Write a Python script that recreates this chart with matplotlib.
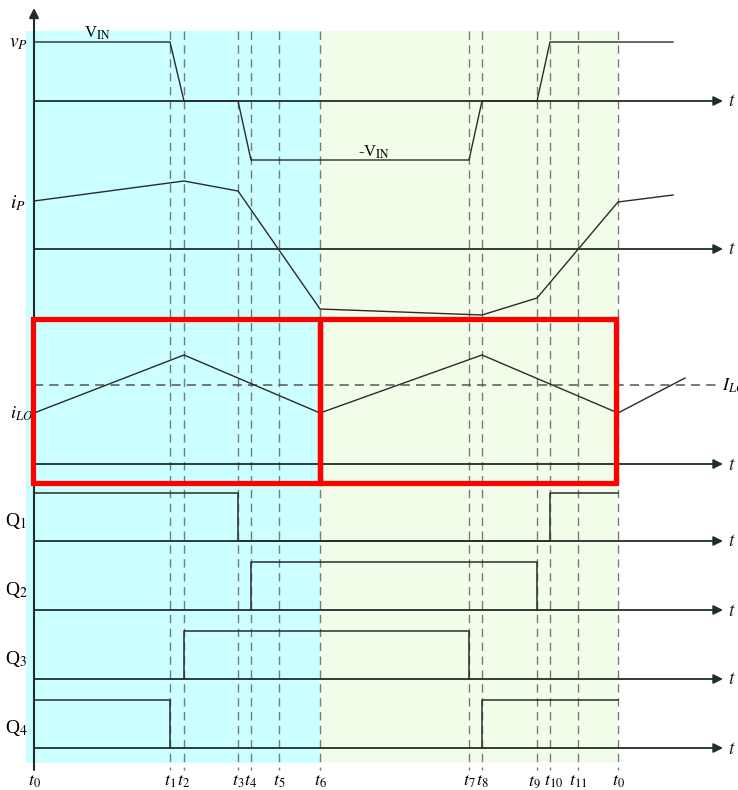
import matplotlib
matplotlib.use("Agg")
import matplotlib.pyplot as plt
from matplotlib.patches import Rectangle

plt.rcParams['mathtext.fontset'] = 'stix'
plt.rcParams['font.family'] = ['Liberation Serif', 'DejaVu Serif']

# ---------------- data ----------------
# switching instants (time units, t0 = 0, period end t0' = 584)
t_names = ['t_0', 't_1', 't_2', 't_3', 't_4', 't_5', 't_6',
           't_7', 't_8', 't_9', 't_{10}', 't_{11}', 't_0']
t_vals = [0, 136, 150, 204, 217, 245, 286, 435, 448, 503, 516, 544, 584]
t_end = 639          # end of drawn waveform after one period

# primary voltage vP (normalised to VIN)
vp_t = [0, 136, 150, 204, 217, 435, 448, 503, 516, 639]
vp_v = [1, 1, 0, 0, -1, -1, 0, 0, 1, 1]

# primary current iP (arbitrary units)
ip_t = [0, 150, 204, 286, 448, 503, 584, 639]
ip_v = [48, 68, 58, -60, -66, -49, 47, 54]

# output inductor current iLO (arbitrary units) and its average ILO
ilo_t = [0, 150, 286, 448, 584, 651]
ilo_v = [51, 109, 51, 109, 51, 86]
ilo_avg = 79

# gate signals (1 = on)
q_names = ['Q$_1$', 'Q$_2$', 'Q$_3$', 'Q$_4$']
q1_t = [0, 204, 204, 516, 516, 584]
q1_v = [1, 1, 0, 0, 1, 1]
q2_t = [217, 217, 503, 503]
q2_v = [0, 1, 1, 0]
q3_t = [150, 150, 435, 435]
q3_v = [0, 1, 1, 0]
q4a_t = [0, 136, 136]
q4a_v = [1, 1, 0]
q4b_t = [448, 448, 584]
q4b_v = [0, 1, 1]

# ---------------- layout ----------------
fig = plt.figure(figsize=(7.38, 7.90), dpi=100)
ax = fig.add_axes([0, 0, 1, 1])
ax.set_xlim(-34, 704)
ax.set_ylim(790, 0)
ax.axis('off')

blue = '#ccffff'
green = '#f1fde9'
wave = '#2b2b2b'
axc = '#1f2d2d'
dashc = '#6f7d80'

# background regions
ax.add_patch(Rectangle((-8, 31), 294, 732, facecolor=blue, edgecolor='none', zorder=0))
ax.add_patch(Rectangle((286, 31), 297, 732, facecolor=green, edgecolor='none', zorder=0))

# dashed time markers
for tv in t_vals[1:]:
    ax.plot([tv, tv], [31, 770], color=dashc, lw=1.0, ls=(0, (6, 4)), zorder=1)

# channel baselines (y position of zero level) and scales
base_vp, sc_vp = 101, 59
base_ip = 249
base_ilo = 464
q_bases = [541, 610, 679, 748]
q_h = 48

arrow_end = 689
for b in [base_vp, base_ip, base_ilo] + q_bases:
    ax.annotate('', xy=(arrow_end, b), xytext=(0, b),
                arrowprops=dict(arrowstyle='-|>', color=axc, lw=1.3,
                                mutation_scale=14, shrinkA=0, shrinkB=0),
                zorder=3)
    ax.text(arrow_end + 5, b + 1, '$t$', fontsize=14, va='center', ha='left', color='#222')

# vertical axis
ax.annotate('', xy=(0, 8), xytext=(0, 770),
            arrowprops=dict(arrowstyle='-|>', color=axc, lw=1.5,
                            mutation_scale=14, shrinkA=0, shrinkB=0), zorder=3)

# waveforms
ax.plot(vp_t, [base_vp - sc_vp * v for v in vp_v], color=wave, lw=1.0, zorder=4)
ax.plot(ip_t, [base_ip - v for v in ip_v], color=wave, lw=1.0, zorder=4)
ax.plot(ilo_t, [base_ilo - v for v in ilo_v], color=wave, lw=1.0, zorder=4)
ax.plot([0, 683], [base_ilo - ilo_avg] * 2, color='#555555', lw=1.1,
        ls=(0, (6, 4)), zorder=2)

q_series = [[(q1_t, q1_v)], [(q2_t, q2_v)], [(q3_t, q3_v)],
            [(q4a_t, q4a_v), (q4b_t, q4b_v)]]
for b, segs in zip(q_bases, q_series):
    for ts, vs in segs:
        ax.plot(ts, [b - q_h * v for v in vs], color=wave, lw=1.1, zorder=4)

# red highlight boxes
ax.add_patch(Rectangle((-1, 319), 287, 164, facecolor='none', edgecolor='#ff0000',
                       lw=3.8, zorder=6))
ax.add_patch(Rectangle((286, 319), 296, 164, facecolor='none', edgecolor='#ff0000',
                       lw=3.8, zorder=6))

# labels
ax.text(-16, 44, '$v_P$', fontsize=14, ha='center', va='center')
ax.text(50, 33, r'V$_{\mathrm{IN}}$', fontsize=12, ha='left', va='center')
ax.text(324, 152, r'-V$_{\mathrm{IN}}$', fontsize=12, ha='left', va='center')
ax.text(-16, 203, '$i_P$', fontsize=14, ha='center', va='center')
ax.text(-13, 414, '$i_{LO}$', fontsize=13, ha='center', va='center')
ax.text(688, 386, '$I_{LO}$', fontsize=13, ha='left', va='center')
for name, b in zip(q_names, q_bases):
    ax.text(-18, b - 20, name, fontsize=14, ha='center', va='center')
label_shift = {'t_9': -3, 't_{10}': 4, 't_{11}': 0}
for name, tv in zip(t_names, t_vals):
    ax.text(tv + label_shift.get(name, 0), 781, '$' + name + '$', fontsize=13,
            ha='center', va='center')

fig.savefig('out.png', dpi=100)
